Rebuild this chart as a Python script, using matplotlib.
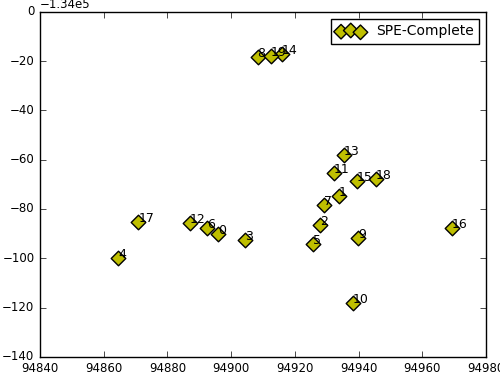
import matplotlib
matplotlib.use("Agg")
import matplotlib.pyplot as plt

plt.style.use("classic")
plt.rcParams["font.size"] = 8.5

# point ids and coordinates (y values are absolute)
ids = list(range(20))
xs = [94895.9, 94933.8, 94927.8, 94904.5, 94864.6, 94925.6, 94892.4, 94929.1,
      94908.3, 94939.8, 94938.2, 94932.2, 94887.0, 94935.4, 94916.0, 94939.5,
      94969.3, 94870.9, 94945.5, 94912.4]
ys = [-134090.1, -134074.9, -134086.5, -134092.8, -134100.1, -134094.3,
      -134087.8, -134078.4, -134018.4, -134091.6, -134118.0, -134065.5,
      -134085.5, -134058.0, -134017.2, -134068.6, -134087.8, -134085.1,
      -134067.9, -134018.1]

fig, ax = plt.subplots(figsize=(5, 3.82), dpi=100)
fig.subplots_adjust(left=0.08, right=0.972, top=0.969, bottom=0.066)

ax.scatter(xs, ys, marker="D", s=55, c="y", edgecolors="k", label="SPE-Complete")
for i, x, y in zip(ids, xs, ys):
    ax.annotate(str(i), (x, y), fontsize=9)

ax.set_xlim(94840, 94980)
ax.set_ylim(-134140, -134000)
ax.ticklabel_format(axis="x", useOffset=False)
ax.legend(loc="upper right", scatterpoints=3, fontsize=10)

fig.savefig("out.png")
